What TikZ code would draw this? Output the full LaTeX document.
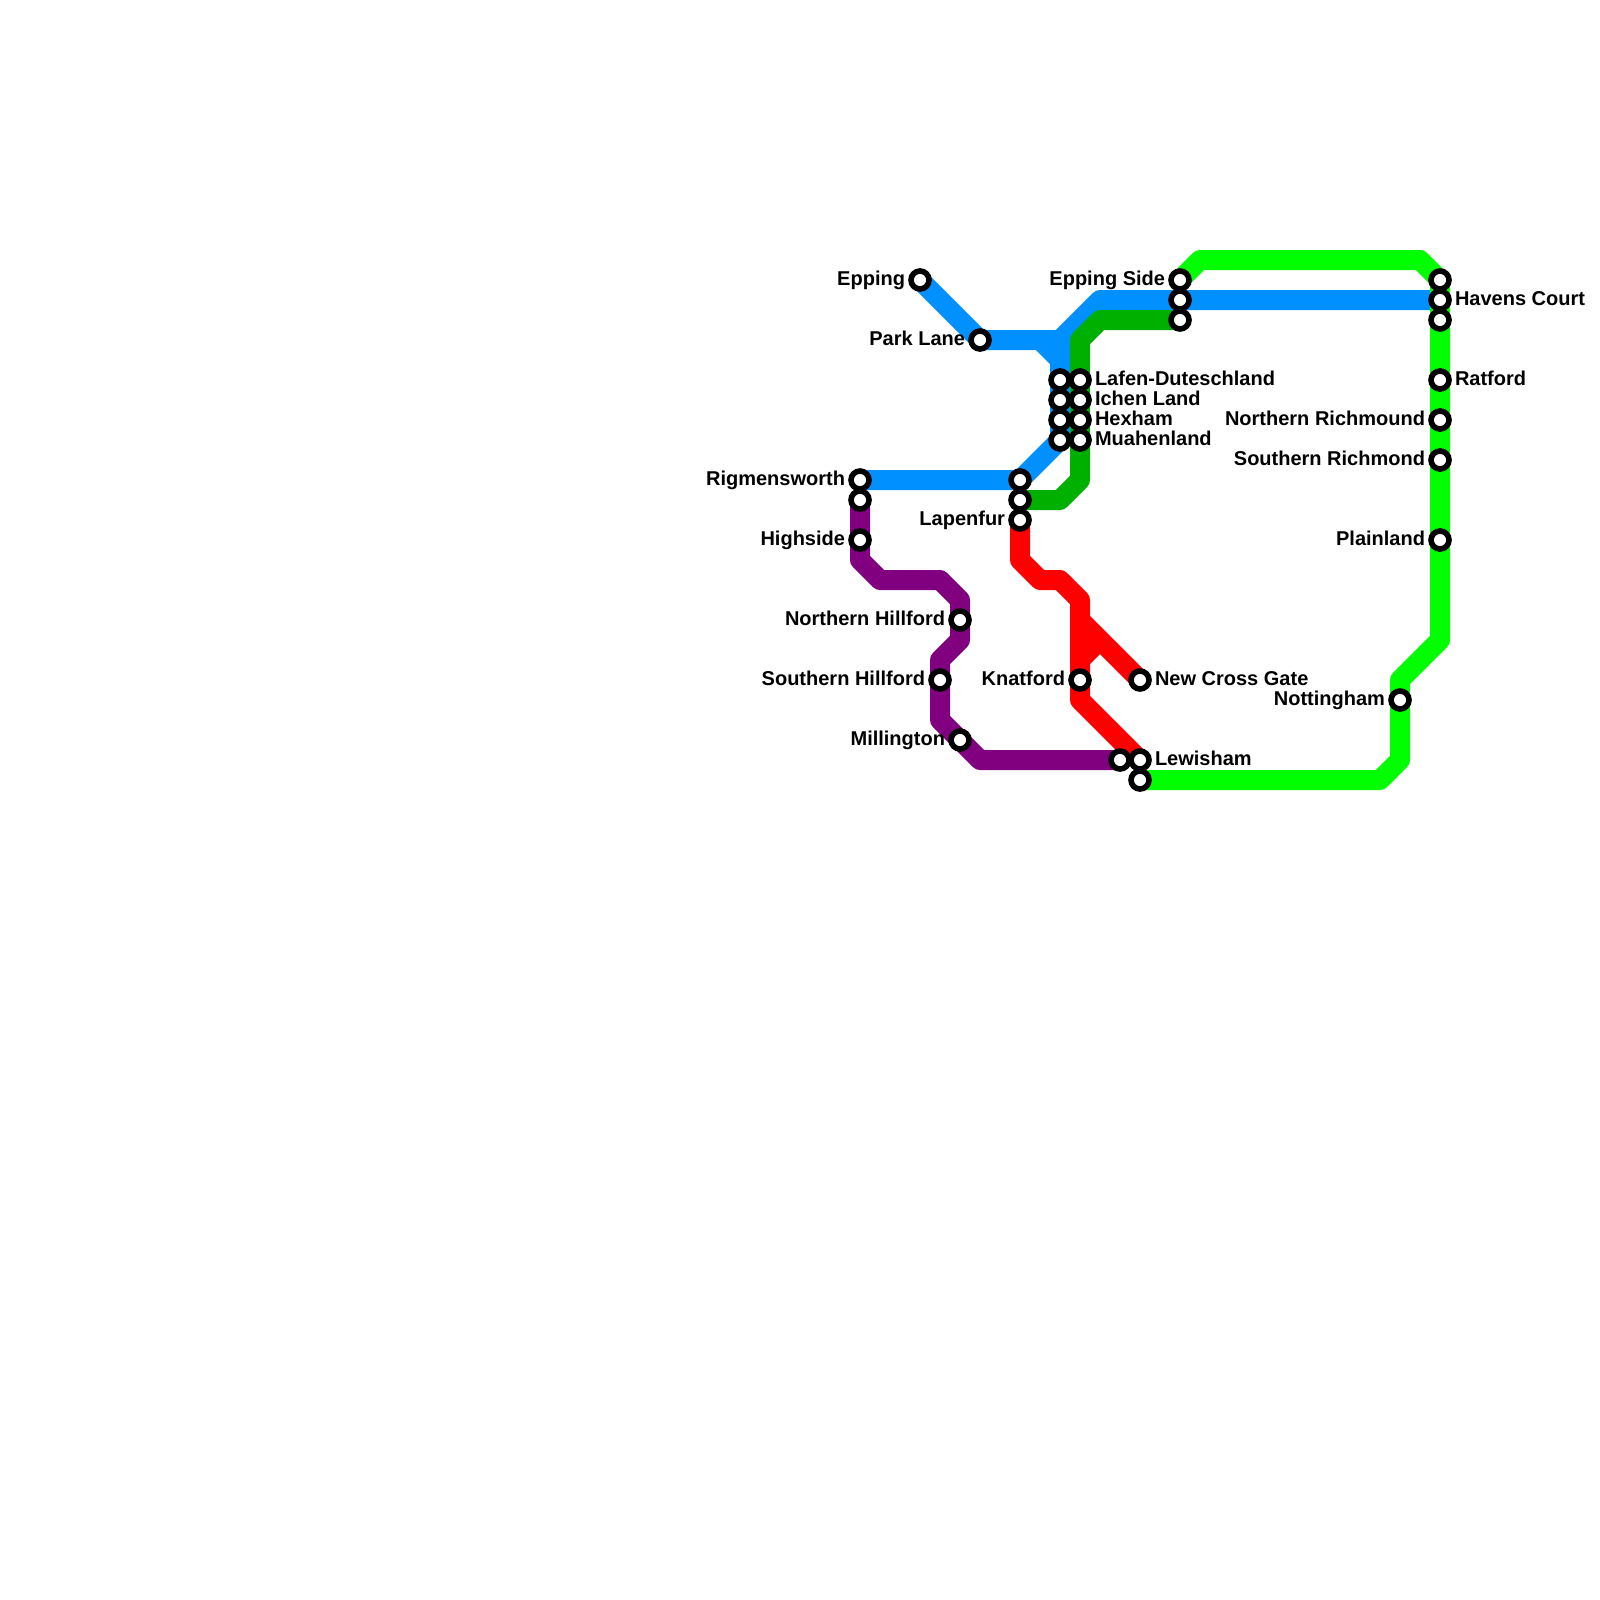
\documentclass[tikz,border=0pt]{standalone}
\usepackage{fontspec}
\setmainfont{Liberation Sans}
\usetikzlibrary{backgrounds}
\definecolor{lblue}{HTML}{0090FF}
\definecolor{lgreen}{HTML}{00B000}
\definecolor{lbright}{HTML}{00FF00}
\definecolor{lred}{HTML}{FF0000}
\definecolor{lpurple}{HTML}{800080}
\tikzset{
  x=1pt,y=-1pt,
  metro/.style={line width=20pt,line join=round,line cap=butt},
  stn/.style={circle,draw=black,fill=white,line width=5.6pt,minimum size=18pt,inner sep=0pt,outer sep=0pt},
  lbl/.style={font=\fontsize{20pt}{22pt}\selectfont\bfseries,inner sep=0pt,outer sep=0pt},
  lr/.style={lbl,anchor=base west},
  ll/.style={lbl,anchor=base east},
}
\newcommand{\stnR}[4]{\node[stn] (#1) at (#2,#3) {}; \node[lr] (#1-l) at (#2+15,#3+5.4) {#4};}
\newcommand{\stnL}[4]{\node[stn] (#1) at (#2,#3) {}; \node[ll] (#1-l) at (#2-15,#3+5.4) {#4};}
\newcommand{\stnN}[3]{\node[stn] (#1) at (#2,#3) {};}
\begin{document}
\begin{tikzpicture}
\useasboundingbox (0,0) rectangle (1600,1600);
\stnL{epping}{920}{280}{Epping}
\stnL{park}{980}{340}{Park Lane}
\stnL{rig}{860}{480}{Rigmensworth}
\stnN{rigb}{860}{500}
\stnL{high}{860}{540}{Highside}
\stnL{nhill}{960}{620}{Northern Hillford}
\stnL{shill}{940}{680}{Southern Hillford}
\stnL{mill}{960}{740}{Millington}
\stnN{lewa}{1120}{760}
\stnR{lew}{1140}{760}{Lewisham}
\stnN{lewb}{1140}{780}
\stnN{lapa}{1020}{480}
\stnN{lapb}{1020}{500}
\stnL{lap}{1020}{520}{Lapenfur}
\stnN{la}{1060}{380}
\stnN{ia}{1060}{400}
\stnN{ha}{1060}{420}
\stnN{ma}{1060}{440}
\stnR{lb}{1080}{380}{Lafen-Duteschland}
\stnR{ib}{1080}{400}{Ichen Land}
\stnR{hb}{1080}{420}{Hexham}
\stnR{mb}{1080}{440}{Muahenland}
\stnL{esa}{1180}{280}{Epping Side}
\stnN{esb}{1180}{300}
\stnN{esc}{1180}{320}
\stnN{hca}{1440}{280}
\stnR{hc}{1440}{300}{Havens Court}
\stnN{hcb}{1440}{320}
\stnR{rat}{1440}{380}{Ratford}
\stnL{nr}{1440}{420}{Northern Richmound}
\stnL{sr}{1440}{460}{Southern Richmond}
\stnL{pl}{1440}{540}{Plainland}
\stnL{nott}{1400}{700}{Nottingham}
\stnL{kn}{1080}{680}{Knatford}
\stnR{ncg}{1140}{680}{New Cross Gate}
\coordinate (bj) at (1060,340);
\coordinate (rj) at (1080,620);
\begin{pgfonlayer}{background}
\draw[metro,lblue] (epping.center) -- (park.center) -- (bj) -- (1100,300) -- (hc.center);
\draw[metro,lblue] (1040,340) -- (1060,360) -- (la.center) -- (ma.center) -- (lapa.center) -- (rig.center);
\draw[metro,lblue] (bj) -- (1060,360);
\draw[metro,lgreen] (esc.center) -- (1100,320) -- (1080,340) -- (mb.center) -- (1080,480) -- (1060,500) -- (lapb.center);
\draw[metro,lbright] (esa.center) -- (1200,260) -- (1420,260) -- (hca.center) -- (1440,640) -- (1400,680) -- (1400,760) -- (1380,780) -- (lewb.center);
\draw[metro,lred] (lap.center) -- (1020,560) -- (1040,580) -- (1060,580) -- (1080,600) -- (kn.center) -- (1080,700) -- (lew.center);
\draw[metro,lred] (rj) -- (ncg.center);
\draw[metro,lred] (1080,660) -- (1100,640);
\draw[metro,lpurple] (rigb.center) -- (860,560) -- (880,580) -- (940,580) -- (960,600) -- (960,640) -- (940,660) -- (940,720) -- (980,760) -- (lewa.center);
\end{pgfonlayer}
\end{tikzpicture}
\end{document}
